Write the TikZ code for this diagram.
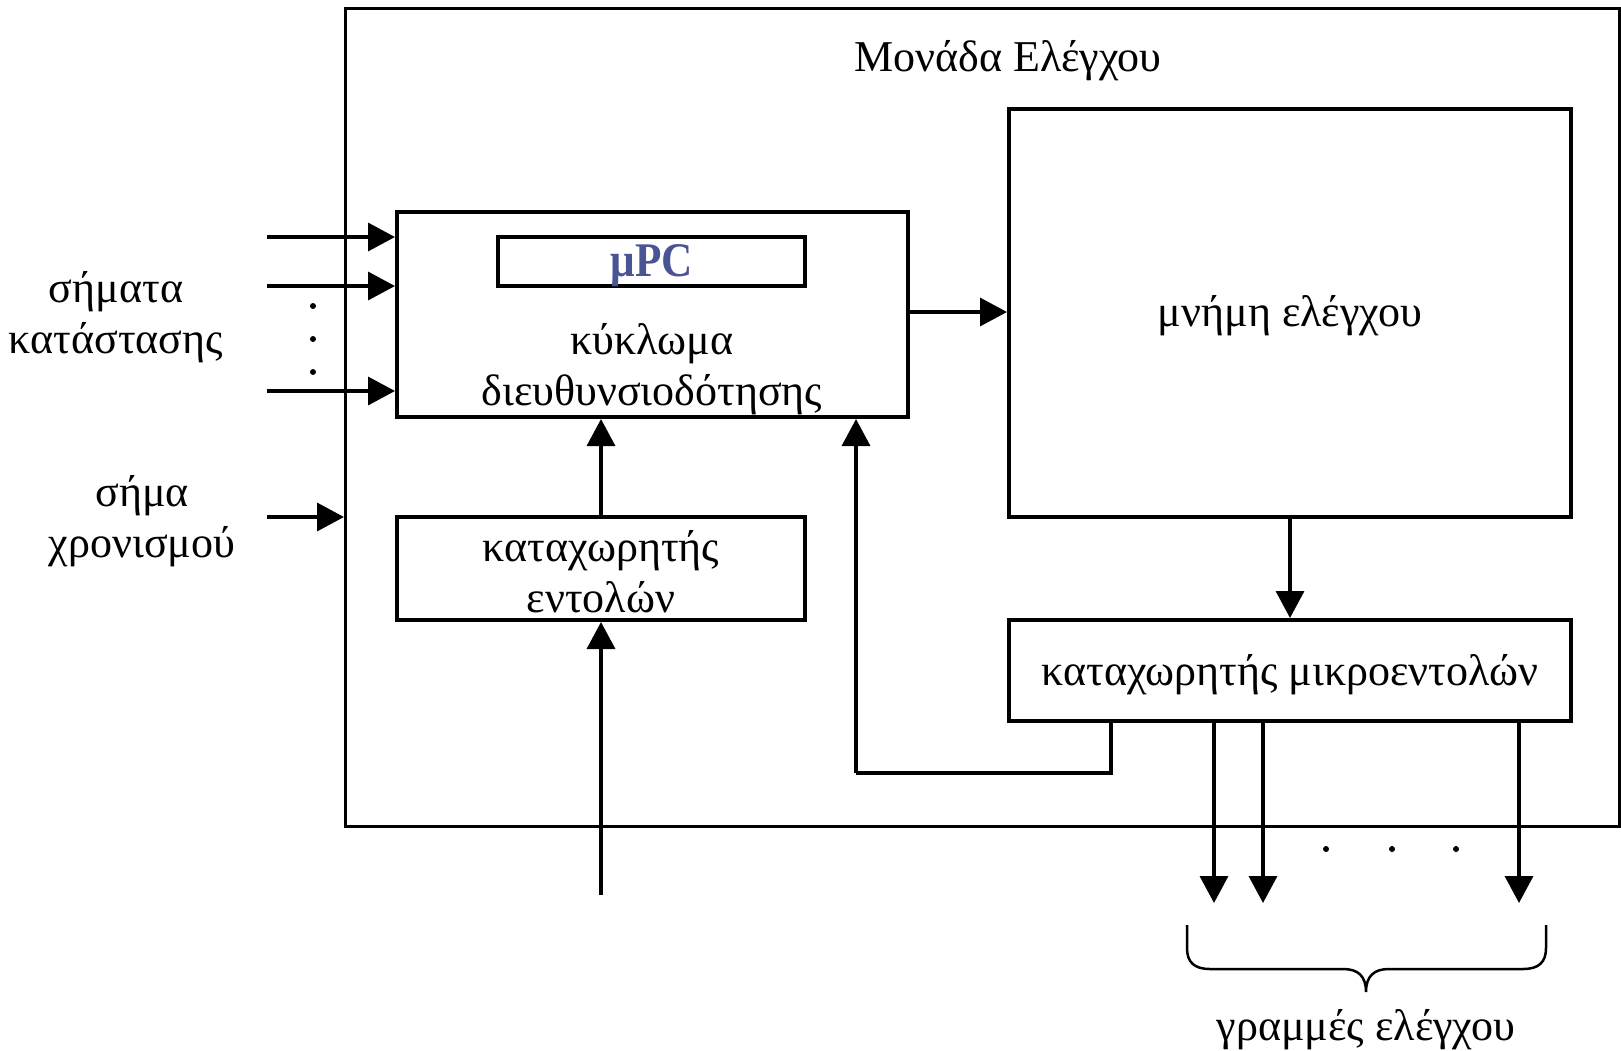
\documentclass[tikz,border=0pt]{standalone}
\usepackage{fontspec}
\setmainfont{Liberation Serif}
\usetikzlibrary{arrows.meta}
\definecolor{mpcblue}{RGB}{74,84,148}
\begin{document}
\begin{tikzpicture}[x=1pt,y=-1pt,
  every node/.style={font=\fontsize{44}{51}\selectfont, inner sep=0pt},
  blk/.style={draw, line width=4pt, rectangle},
  lbl/.style={align=center},
  arr/.style={line width=3.5pt, -{Triangle[length=27pt,width=28pt]}},
  wire/.style={line width=3.5pt},
  dotmark/.style={fill, circle, minimum size=6pt, inner sep=0pt}]
\useasboundingbox (0,0) rectangle (1621,1050);

% control unit frame
\node[draw, line width=3pt, minimum width=1274pt, minimum height=818pt, anchor=north west] (cu) at (344,7) {};
\node (title) at (1008,61) {Μονάδα Ελέγχου};

% blocks
\node[blk, minimum width=511pt, minimum height=205pt] (addr) at (652.5,314.5) {};
\node[blk, minimum width=307pt, minimum height=49pt] (mpc) at (651.5,261.5) {};
\node[font=\fontsize{46}{50}\selectfont\bfseries, text=mpcblue, xscale=0.94, yscale=1.05] (mpct) at (652,266) {μPC};
\node[lbl] (addrt) at (652,369) {κύκλωμα\\διευθυνσιοδότησης};

\node[blk, minimum width=562pt, minimum height=408pt] (mem) at (1290,313) {};
\node (memt) at (1290,316) {μνήμη ελέγχου};

\node[blk, minimum width=562pt, minimum height=101pt] (micro) at (1290,670.5) {};
\node (microt) at (1290,675) {καταχωρητής μικροεντολών};

\node[blk, minimum width=408pt, minimum height=103pt] (ir) at (601,568.5) {};
\node[lbl] (irt) at (601,572) {καταχωρητής\\εντολών};

% external labels
\node[lbl] (status) at (116,317) {σήματα\\κατάστασης};
\node[lbl] (clock) at (142,521) {σήμα\\χρονισμού};
\node (lines) at (1366,1030) {γραμμές ελέγχου};

% status inputs
\coordinate (s1) at (267,237);
\coordinate (s2) at (267,286);
\coordinate (s3) at (267,391);
\draw[arr] (s1) -- (s1 -| addr.west);
\draw[arr] (s2) -- (s2 -| addr.west);
\draw[arr] (s3) -- (s3 -| addr.west);
\node[dotmark] (d1) at (313,306) {};
\node[dotmark] (d2) at (313,339) {};
\node[dotmark] (d3) at (313,372) {};

% clock input
\coordinate (clk) at (267,517);
\draw[arr] (clk) -- (clk -| cu.west);

% internal data paths
\coordinate (am) at (908,312);
\draw[arr] (am -| addr.east) -- (am -| mem.west);
\draw[arr] (mem.south) -- (micro.north);
\draw[arr] (ir.north) -- (ir.north |- addr.south);
\coordinate (opc) at (601,895);
\draw[arr] (opc) -- (ir.south);

% next-address feedback
\coordinate (fb) at (1111,773);
\coordinate (fbin) at (856,773);
\draw[wire] (fb |- micro.south) -- (fb) -- (fbin);
\draw[arr] (fbin) -- (fbin |- addr.south);

% control line outputs
\coordinate (o1) at (1214,903);
\coordinate (o2) at (1263,903);
\coordinate (o3) at (1519,903);
\draw[arr] (o1 |- micro.south) -- (o1);
\draw[arr] (o2 |- micro.south) -- (o2);
\draw[arr] (o3 |- micro.south) -- (o3);
\node[dotmark] (e1) at (1326,849) {};
\node[dotmark] (e2) at (1392,849) {};
\node[dotmark] (e3) at (1456,849) {};

% brace over the control lines
\draw[line width=2.5pt]
  (1187,925) -- (1187,948)
  .. controls (1187,962) and (1194,969) .. (1210,969) -- (1343,969)
  .. controls (1358,969) and (1366,976) .. (1366,992)
  .. controls (1366,976) and (1374,969) .. (1389,969) -- (1523,969)
  .. controls (1539,969) and (1546,962) .. (1546,948) -- (1546,925);
\end{tikzpicture}
\end{document}
